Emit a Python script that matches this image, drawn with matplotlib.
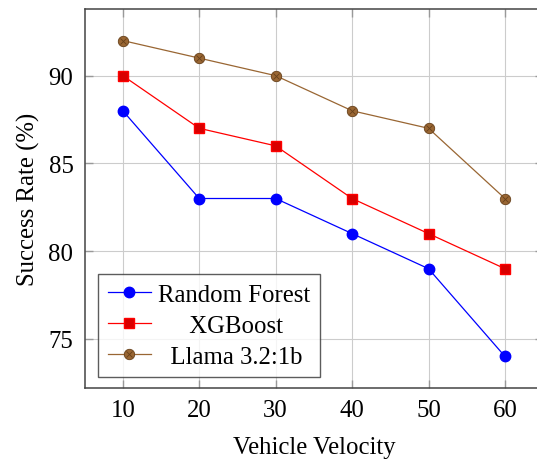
import matplotlib.pyplot as plt
from matplotlib.lines import Line2D

# Data
velocity = [10, 20, 30, 40, 50, 60]
random_forest = [88, 83, 83, 81, 79, 74]
xgboost = [90, 87, 86, 83, 81, 79]
llama = [92, 91, 90, 88, 87, 83]
y_ticks = [75, 80, 85, 90]

plt.rcParams['font.family'] = ['Liberation Serif', 'DejaVu Serif']

fig = plt.figure(figsize=(5.37, 4.6), dpi=100)
# the right edge of the axes runs past the figure, as in the reference
ax = fig.add_axes([0.1575, 0.1543, 0.854, 0.824])

brown = (0.6, 0.4, 0.2)
dark_brown = (0.4, 0.25, 0.1)
fs = 17.8

ax.plot(velocity, random_forest, color='blue', lw=0.9, marker='o', ms=7.5,
        mfc='blue', mec='blue', zorder=3)
ax.plot(velocity, xgboost, color='red', lw=0.9, marker='s', ms=7.5,
        mfc=(0.85, 0, 0), mec='red', zorder=3)
ax.plot(velocity, llama, color=brown, lw=0.9, marker='o', ms=7.5,
        mfc=brown, mec=dark_brown, mew=0.6, zorder=3)
ax.plot(velocity, llama, ls='none', marker='x', ms=5, mec=dark_brown,
        mew=0.6, zorder=4)

ax.set_xlim(5, 65)
ax.set_ylim(72.2, 93.8)
ax.set_xticks(velocity)
ax.set_yticks(y_ticks)
ax.grid(True, color='#cccccc', lw=0.8)
ax.set_axisbelow(True)
ax.tick_params(direction='in', length=6, width=1.0, color='#999999',
               top=True, right=True, labelsize=fs, pad=8, labelcolor='black')
for s in ax.spines.values():
    s.set_color('#444444')
    s.set_linewidth(1.1)

ax.set_xlabel('Vehicle Velocity', fontsize=fs, labelpad=10.5)
ax.set_ylabel('Success Rate (%)', fontsize=fs, labelpad=6)

handles = [
    Line2D([], [], color='blue', lw=0.9, marker='o', ms=7.5, mfc='blue', mec='blue'),
    Line2D([], [], color='red', lw=0.9, marker='s', ms=7.5, mfc=(0.85, 0, 0), mec='red'),
    (Line2D([], [], color=brown, lw=0.9, marker='o', ms=7.5, mfc=brown,
            mec=dark_brown, mew=0.6),
     Line2D([], [], ls='none', marker='x', ms=5, mec=dark_brown, mew=0.6)),
]
labels = ['Random Forest', '     XGBoost', '  Llama 3.2:1b']
leg = ax.legend(handles, labels, loc='lower left', bbox_to_anchor=(0.030, 0.028),
                fontsize=fs, frameon=True, fancybox=False, edgecolor='#333333',
                handlelength=1.75, handletextpad=0.3, borderpad=0.38,
                labelspacing=0.36, borderaxespad=0)
leg.get_frame().set_linewidth(1.0)

fig.savefig('out.png', dpi=100)
